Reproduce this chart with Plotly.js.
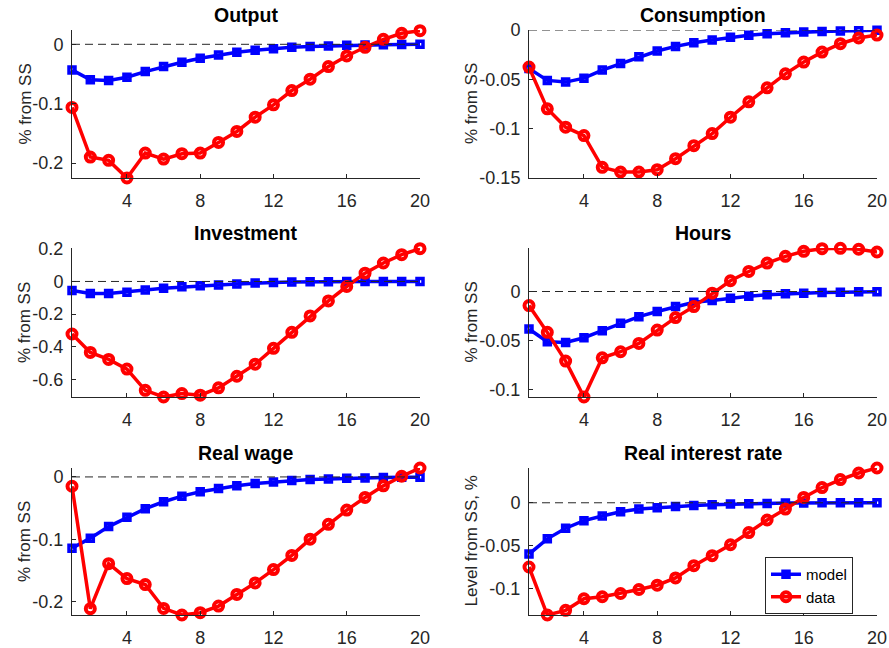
<!DOCTYPE html>
<html>
<head>
<meta charset="utf-8">
<script src="https://cdn.plot.ly/plotly-3.0.1.min.js"></script>
<style>html,body{margin:0;padding:0;background:#fff;}#chart{width:889px;height:648px;}</style>
</head>
<body>
<div id="chart"></div>
<script>
// ---- data ----
const periods = [1,2,3,4,5,6,7,8,9,10,11,12,13,14,15,16,17,18,19,20];
const xTickVals = [4,8,12,16,20];
const xTickText = ["4","8","12","16","20"];

const titles = ["Output","Consumption","Investment","Hours","Real wage","Real interest rate"];
const yLabels = ["% from SS","% from SS","% from SS","% from SS","% from SS","Level from SS, %"];

const outputModel = [-0.0431,-0.0599,-0.0611,-0.0555,-0.0459,-0.0375,-0.0303,-0.0235,-0.0179,-0.0134,-0.0101,-0.0073,-0.0050,-0.0039,-0.0028,-0.0017,-0.0011,-0.0006,-0.0003,-0.0001];
const outputData  = [-0.1064,-0.1899,-0.1955,-0.2252,-0.1832,-0.1933,-0.1843,-0.1832,-0.1653,-0.1468,-0.1227,-0.1020,-0.0779,-0.0588,-0.0375,-0.0196,-0.0050,0.0084,0.0185,0.0230];

const consModel = [-0.0389,-0.0511,-0.0528,-0.0488,-0.0406,-0.0339,-0.0271,-0.0213,-0.0166,-0.0129,-0.0102,-0.0074,-0.0054,-0.0037,-0.0027,-0.0020,-0.0014,-0.0010,-0.0007,-0.0003];
const consData  = [-0.0376,-0.0799,-0.0985,-0.1070,-0.1392,-0.1439,-0.1439,-0.1416,-0.1304,-0.1172,-0.1050,-0.0884,-0.0728,-0.0586,-0.0444,-0.0325,-0.0224,-0.0139,-0.0081,-0.0051];

const invModel = [-0.055,-0.074,-0.074,-0.066,-0.053,-0.041,-0.033,-0.027,-0.021,-0.016,-0.010,-0.006,-0.004,-0.002,-0.002,-0.001,-0.0005,-0.0003,-0.0002,-0.0001];
const invData  = [-0.322,-0.435,-0.478,-0.537,-0.667,-0.708,-0.687,-0.697,-0.652,-0.581,-0.507,-0.410,-0.312,-0.211,-0.119,-0.031,0.051,0.113,0.164,0.201];

const hoursModel = [-0.0384,-0.0514,-0.0521,-0.0473,-0.0401,-0.0325,-0.0257,-0.0205,-0.0154,-0.0110,-0.0092,-0.0068,-0.0048,-0.0034,-0.0024,-0.0017,-0.0010,-0.0007,-0.0003,-0.0003];
const hoursData  = [-0.0144,-0.0418,-0.0712,-0.1079,-0.0678,-0.0616,-0.0531,-0.0394,-0.0267,-0.0154,-0.0017,0.0110,0.0205,0.0291,0.0360,0.0411,0.0438,0.0442,0.0432,0.0404];

const wageModel = [-0.1141,-0.0981,-0.0796,-0.0647,-0.0509,-0.0398,-0.0308,-0.0239,-0.0186,-0.0143,-0.0106,-0.0080,-0.0058,-0.0042,-0.0032,-0.0021,-0.0016,-0.0011,-0.0005,-0.0005];
const wageData  = [-0.0149,-0.2111,-0.1390,-0.1629,-0.1724,-0.2106,-0.2212,-0.2175,-0.2069,-0.1883,-0.1698,-0.1485,-0.1257,-0.0997,-0.0759,-0.0531,-0.0329,-0.0143,0.0011,0.0143];

const rateModel = [-0.0596,-0.0419,-0.0296,-0.0208,-0.0154,-0.0104,-0.0073,-0.0058,-0.0042,-0.0031,-0.0023,-0.0015,-0.0012,-0.0008,-0.0004,-0.0004,-0.0001,0,0,0];
const rateData  = [-0.0746,-0.1304,-0.1250,-0.1115,-0.1092,-0.1054,-0.1008,-0.0958,-0.0873,-0.0731,-0.0615,-0.0488,-0.0346,-0.0200,-0.0073,0.0062,0.0177,0.0269,0.0346,0.0404];

const yTickVals = [[0,-0.1,-0.2],[0,-0.05,-0.1,-0.15],[0.2,0,-0.2,-0.4,-0.6],[0,-0.05,-0.1],[0,-0.1,-0.2],[0,-0.05,-0.1]];
const yTickText = [["0","-0.1","-0.2"],["0","-0.05","-0.1","-0.15"],["0.2","0","-0.2","-0.4","-0.6"],["0","-0.05","-0.1"],["0","-0.1","-0.2"],["0","-0.05","-0.1"]];
const yRanges = [[-0.2252,0.0241],[-0.15,0],[-0.708,0.205],[-0.1079,0.0445],[-0.2212,0.0143],[-0.1304,0.0404]];

const modelSeries = [outputModel, consModel, invModel, hoursModel, wageModel, rateModel];
const dataSeries  = [outputData, consData, invData, hoursData, wageData, rateData];
const seriesNames = ["model","data"];

// ---- layout geometry ----
const W = 889, H = 648;
const colPx = [[72,420],[529,877]];
const rowPx = [[30,178],[248,397],[468,615]];
const yTitleX = [24.5, 471];
const FONT = "Liberation Sans, Arial, sans-serif";
const AX = "#262626";

const traces = [];
const layout = {
  width: W, height: H,
  margin: {l:0, r:0, t:0, b:0},
  paper_bgcolor: "#fff", plot_bgcolor: "#fff",
  font: {family: FONT, color: AX, size: 17},
  showlegend: true,
  legend: {
    x: 765/W, y: 1 - 557/H, xanchor: "left", yanchor: "top",
    bgcolor: "#fff", bordercolor: AX, borderwidth: 1,
    font: {family: FONT, size: 15, color: "#000"},
    itemwidth: 30, tracegroupgap: 0, traceorder: "normal"
  },
  annotations: [], shapes: []
};

for (let i = 0; i < 6; i++) {
  const col = i % 2, row = Math.floor(i / 2);
  const sfx = i === 0 ? "" : String(i + 1);
  const xa = "x" + sfx, ya = "y" + sfx;
  const xd = [colPx[col][0] / W, colPx[col][1] / W];
  const yd = [1 - rowPx[row][1] / H, 1 - rowPx[row][0] / H];

  layout["xaxis" + sfx] = {
    domain: xd, anchor: ya, range: [1, 20],
    tickvals: xTickVals, ticktext: xTickText,
    ticks: "inside", ticklen: 4, tickwidth: 1, tickcolor: AX,
    showline: true, linecolor: AX, linewidth: 1, mirror: false,
    showgrid: false, zeroline: false, automargin: false, fixedrange: true,
    tickfont: {family: FONT, size: 18, color: AX},
    ticklabelstandoff: 6
  };
  layout["yaxis" + sfx] = {
    domain: yd, anchor: xa, range: yRanges[i],
    tickvals: yTickVals[i], ticktext: yTickText[i],
    ticks: "inside", ticklen: 4, tickwidth: 1, tickcolor: AX,
    showline: true, linecolor: AX, linewidth: 1, mirror: false,
    showgrid: false, zeroline: false, automargin: false, fixedrange: true,
    tickfont: {family: FONT, size: 18, color: AX},
    ticklabelstandoff: 4
  };

  // y-axis title
  layout.annotations.push({
    text: yLabels[i], showarrow: false, textangle: -90,
    xref: "paper", yref: "paper",
    x: yTitleX[col] / W, y: (yd[0] + yd[1]) / 2, xanchor: "center", yanchor: "middle",
    font: {family: FONT, size: 17, color: AX}
  });

  // panel title
  layout.annotations.push({
    text: "<b>" + titles[i] + "</b>", showarrow: false,
    xref: "paper", yref: "paper",
    x: (xd[0] + xd[1]) / 2, y: yd[1], xanchor: "center", yanchor: "middle",
    yshift: 15, font: {family: FONT, size: 19.5, color: "#000"}
  });

  layout.shapes.push({
    type: "line", xref: xa + " domain", yref: ya, x0: 0, x1: 1, y0: 0, y1: 0,
    line: {color: AX, width: 1, dash: "8px,5px"}, layer: "above"
  });

  traces.push({
    x: periods, y: modelSeries[i], xaxis: xa, yaxis: ya,
    type: "scatter", mode: "lines+markers", name: seriesNames[0],
    showlegend: i === 5, cliponaxis: false,
    line: {color: "#0000FF", width: 3.5},
    marker: {symbol: "square-open", size: 6, color: "#0000FF", line: {color: "#0000FF", width: 3.5}}
  });
  traces.push({
    x: periods, y: dataSeries[i], xaxis: xa, yaxis: ya,
    type: "scatter", mode: "lines+markers", name: seriesNames[1],
    showlegend: i === 5, cliponaxis: false,
    line: {color: "#FF0000", width: 3.5},
    marker: {symbol: "circle-open", size: 9, color: "#FF0000", line: {color: "#FF0000", width: 4}}
  });
}

Plotly.newPlot("chart", traces, layout, {displayModeBar: false, staticPlot: true});
</script>
</body>
</html>
